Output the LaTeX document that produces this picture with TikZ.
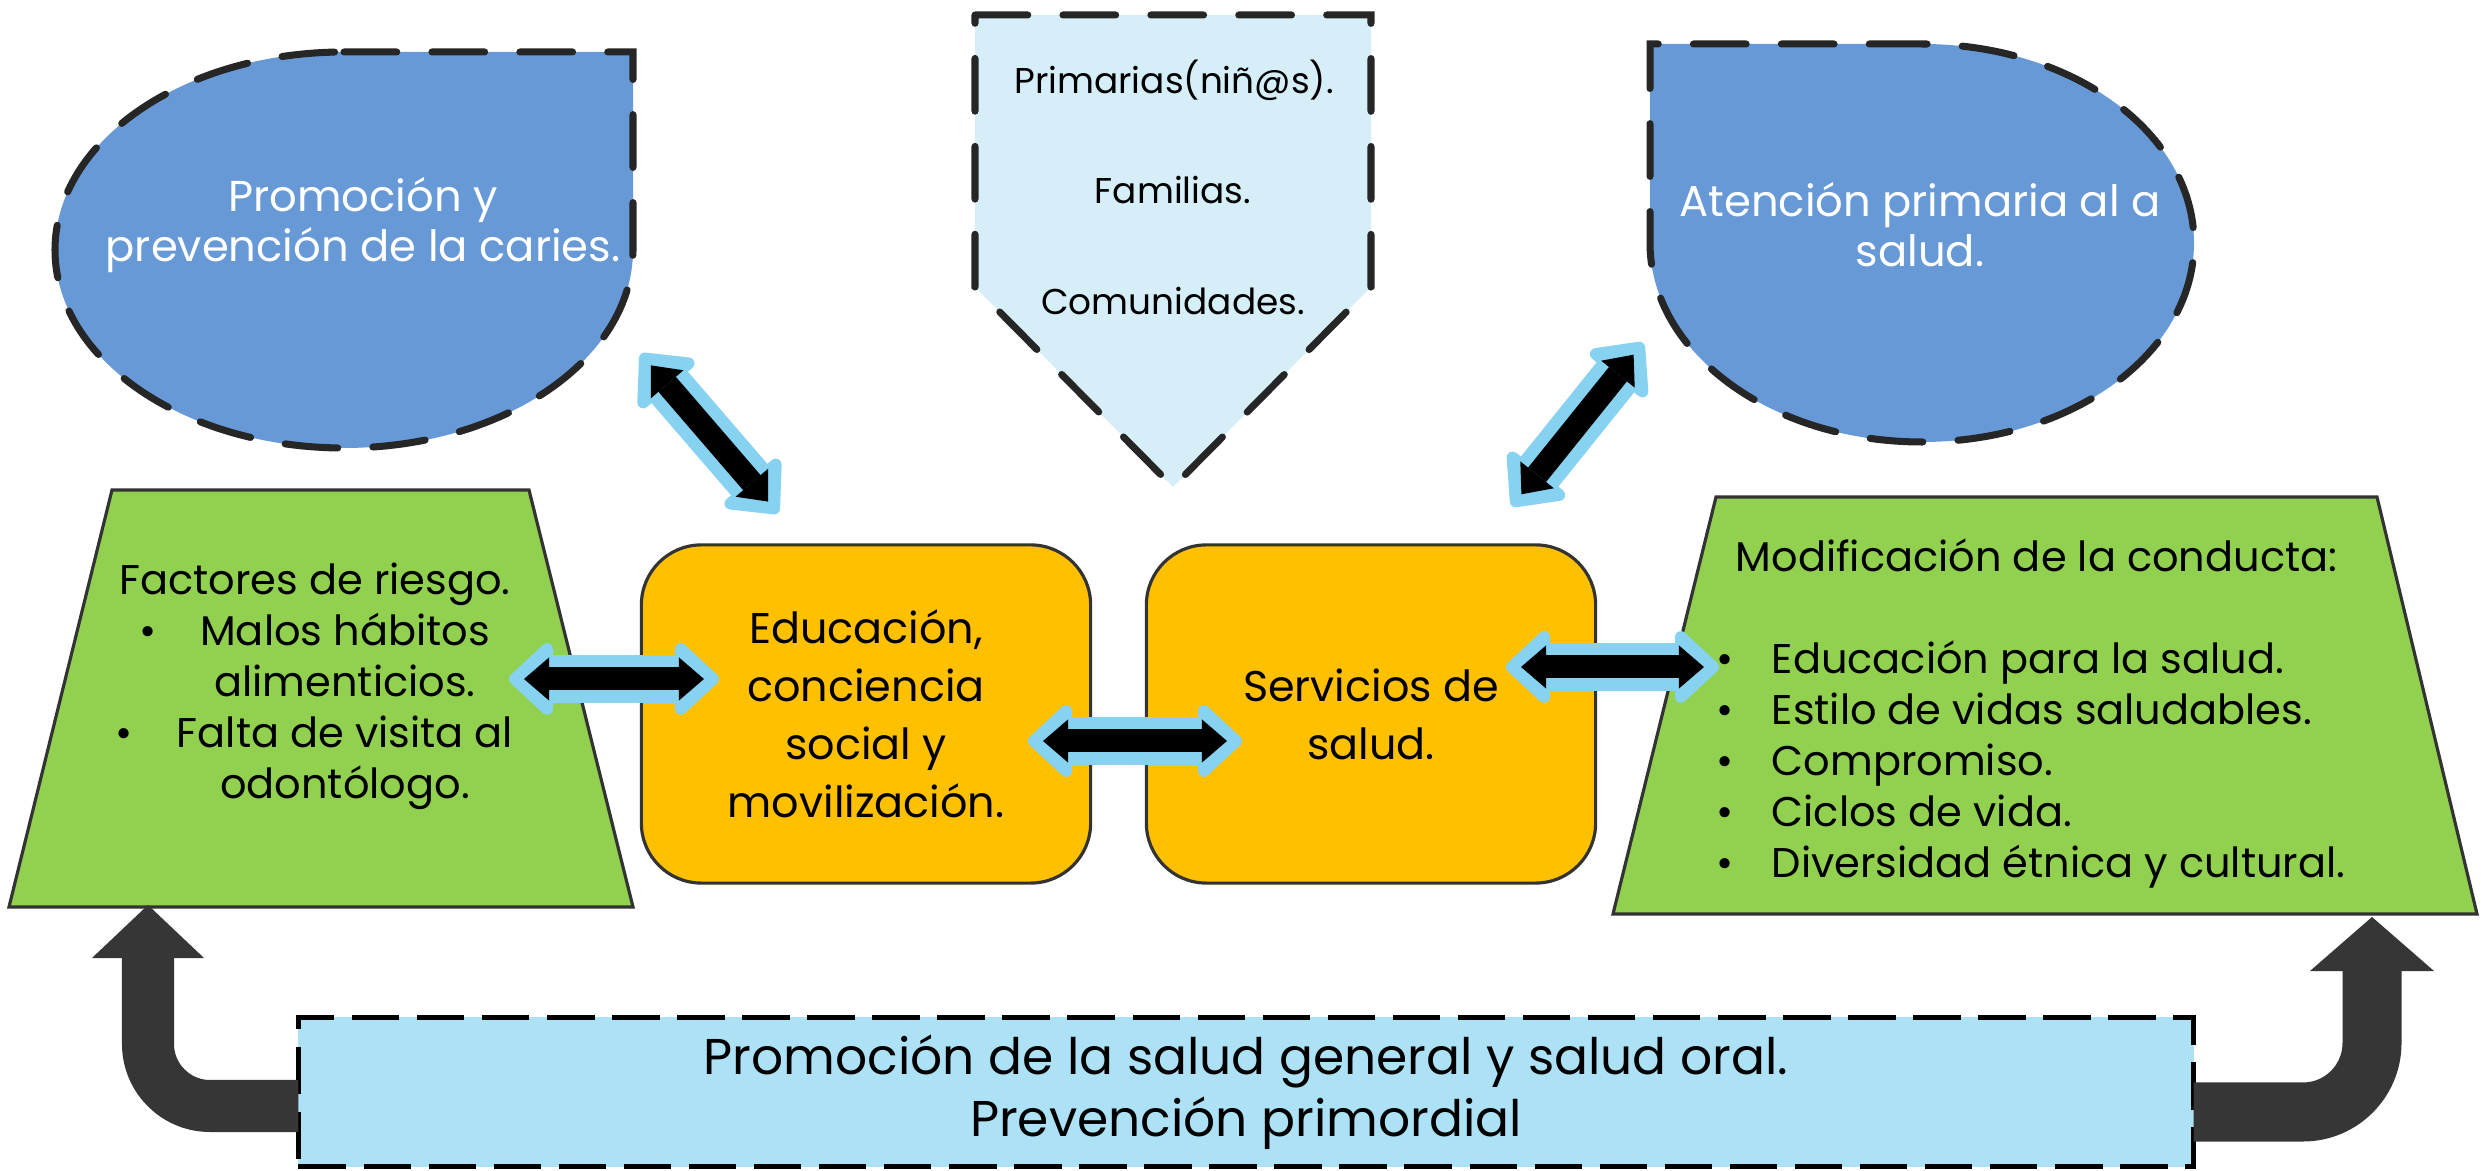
\documentclass[tikz,border=0pt]{standalone}
\usepackage{fontspec}
\setmainfont{Poppins}
\usetikzlibrary{arrows.meta}
\definecolor{tearblue}{RGB}{102,153,213}
\definecolor{pentfill}{RGB}{214,238,248}
\definecolor{trapgreen}{RGB}{146,208,80}
\definecolor{boxorange}{RGB}{255,192,0}
\definecolor{arrowblue}{RGB}{135,210,240}
\definecolor{basefill}{RGB}{173,225,245}
\definecolor{bentgray}{RGB}{54,54,54}
\begin{document}
\begin{tikzpicture}[x=0.01cm,y=-0.01cm,
  dashedge/.style={draw=black!85,line width=2pt,line cap=round,dash pattern=on 15pt off 10pt},
  solidedge/.style={draw=black!80,line width=0.9pt},
  txt/.style={align=center,inner sep=0pt},
  orangebox/.style={solidedge,fill=boxorange,rounded corners=0.6cm,minimum width=4.49cm,minimum height=3.38cm,
    align=center,outer sep=0pt,font=\fontsize{12.2}{16.5}\selectfont},
  blockarrow/.style={draw=arrowblue,line width=0.48cm,
    {Triangle[length=0.47cm,width=0.84cm,line width=0.13cm,round]}-{Triangle[length=0.47cm,width=0.84cm,line width=0.13cm,round]}},
  blockcore/.style={draw=black,line width=0.23cm,shorten <=0.15cm,shorten >=0.15cm,
    {Triangle[length=0.25cm,width=0.43cm,line width=0pt]}-{Triangle[length=0.25cm,width=0.43cm,line width=0pt]}},
  bentarrow/.style={draw=bentgray,line width=0.52cm,rounded corners=0.62cm,
    -{Triangle[length=0.53cm,width=1.12cm,line width=0pt]}}]
\useasboundingbox (0,0) rectangle (2481,1171);

\draw[dashedge,fill=tearblue] (344,52) -- (633,52) -- (633,250)
  arc[start angle=0,end angle=270,x radius=289,y radius=198] -- cycle;
\node[txt,text=white,font=\fontsize{12.3}{14.2}\selectfont] (caries) at (363,225)
  {Promoción y\\prevención de la caries.};

\draw[dashedge,fill=tearblue] (1922,44) -- (1650,44) -- (1650,243)
  arc[start angle=180,end angle=-90,x radius=272,y radius=199] -- cycle;
\node[txt,text=white,font=\fontsize{12.3}{14.2}\selectfont] (atencion) at (1920,225)
  {Atención primaria al a\\salud.};

\draw[dashedge,fill=pentfill] (975,15) -- (1371,15) -- (1371,287) -- (1173,487) -- (975,287) -- cycle;
\node[txt,font=\fontsize{10.2}{12}\selectfont] (primarias) at (1174,80) {Primarias(niñ@s).};
\node[txt,font=\fontsize{10.2}{12}\selectfont] (familias) at (1173,190) {Familias.};
\node[txt,font=\fontsize{10.2}{12}\selectfont] (comunidades) at (1173,301) {Comunidades.};

\draw[solidedge,fill=trapgreen] (112,490) -- (529,490) -- (633,907) -- (9,907) -- cycle;
\node[txt,font=\fontsize{11.8}{14.5}\selectfont] (riesgo) at (345,686)
  {\hspace*{-0.6cm}Factores de riesgo.\\
   \llap{\textbullet\hspace{0.44cm}}Malos hábitos\\alimenticios.\\
   \llap{\textbullet\hspace{0.44cm}}Falta de visita al\\odontólogo.};

\draw[solidedge,fill=trapgreen] (1716,497) -- (2377,497) -- (2477,914) -- (1613,914) -- cycle;
\node[txt,align=left,anchor=north west,font=\fontsize{11.8}{14.5}\selectfont] (conducta) at (1716,538)
  {\hspace*{0.19cm}Modificación de la conducta:\\[14.5pt]
   \makebox[0.55cm][l]{\textbullet}Educación para la salud.\\
   \makebox[0.55cm][l]{\textbullet}Estilo de vidas saludables.\\
   \makebox[0.55cm][l]{\textbullet}Compromiso.\\
   \makebox[0.55cm][l]{\textbullet}Ciclos de vida.\\
   \makebox[0.55cm][l]{\textbullet}Diversidad étnica y cultural.};

\node[orangebox] (educacion) at (866,714) {Educación,\\conciencia\\social y\\movilización.};
\node[orangebox] (servicios) at (1371,714) {Servicios de\\salud.};

\coordinate (a1) at (641,354);
\coordinate (a2) at (778,513);
\coordinate (b1) at (1512,506);
\coordinate (b2) at (1643,343);
\coordinate (c1) at (509,679);
\coordinate (c2) at (719,679);
\coordinate (d1) at (1028,741);
\coordinate (d2) at (1242,741);
\coordinate (e1) at (1506,667);
\coordinate (e2) at (1719,667);
\foreach \p/\q in {a1/a2,b1/b2,c1/c2,d1/d2,e1/e2}{
  \draw[blockarrow] (\p) -- (\q);
  \draw[blockcore] (\p) -- (\q);
}

\coordinate (tipL) at (148,905);
\coordinate (tipR) at (2372,917);
\node[draw=black,line width=1.2pt,dash pattern=on 13.5pt off 5pt,fill=basefill,outer sep=0pt,
  minimum width=18.94cm,minimum height=1.49cm,align=center,font=\fontsize{14.3}{17.6}\selectfont]
  (base) at (1246,1092) {Promoción de la salud general y salud oral.\\Prevención primordial};
\draw[bentarrow] (base.west |- 0,1106) -| (tipL);
\draw[bentarrow,line width=0.59cm,rounded corners=0.69cm,-{Triangle[length=0.54cm,width=1.24cm,line width=0pt]}]
  (base.east |- 0,1112) -| (tipR);
\end{tikzpicture}
\end{document}
